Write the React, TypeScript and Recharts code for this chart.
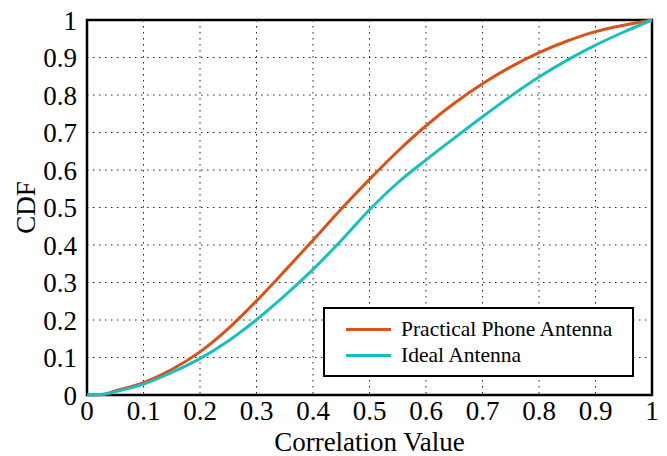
import React from "react";
import {
  LineChart,
  Line,
  XAxis,
  YAxis,
  CartesianGrid,
  ReferenceArea,
  Legend,
  Label,
} from "recharts";

const correlation = [0, 0.03, 0.05, 0.1, 0.15, 0.2, 0.25, 0.3, 0.35, 0.4, 0.45, 0.5, 0.55, 0.6, 0.65, 0.7, 0.75, 0.8, 0.85, 0.9, 0.95, 1];
const practicalCdf = [0, 0.002, 0.011, 0.033, 0.068, 0.115, 0.177, 0.251, 0.331, 0.413, 0.496, 0.575, 0.65, 0.718, 0.778, 0.83, 0.875, 0.913, 0.944, 0.969, 0.986, 1];
const idealCdf = [0, 0.002, 0.009, 0.029, 0.06, 0.097, 0.144, 0.201, 0.265, 0.335, 0.412, 0.494, 0.566, 0.627, 0.685, 0.742, 0.797, 0.848, 0.893, 0.933, 0.968, 1];
const xTicks = [0, 0.1, 0.2, 0.3, 0.4, 0.5, 0.6, 0.7, 0.8, 0.9, 1];
const yTicks = [0, 0.1, 0.2, 0.3, 0.4, 0.5, 0.6, 0.7, 0.8, 0.9, 1];

const seriesNames = ["Practical Phone Antenna", "Ideal Antenna"];
const seriesColors = ["#D95319", "#19BFBF"];

const data = correlation.map((x, i) => ({
  x,
  practical: practicalCdf[i],
  ideal: idealCdf[i],
}));

const FONT = '"Liberation Serif", "Times New Roman", serif';

const fmt = (v: number) => (v === 0 ? "0" : v === 1 ? "1" : String(Math.round(v * 10) / 10));

const YLabel = (props: any) => {
  const vb = props.viewBox || { x: 0, y: 20, width: 87, height: 375 };
  const cx = vb.x + 26;
  const cy = vb.y + vb.height / 2;
  return (
    <text
      x={cx}
      y={cy}
      transform={`rotate(-90 ${cx} ${cy})`}
      textAnchor="middle"
      dominantBaseline="central"
      fontSize={27}
      fontFamily={FONT}
      fill="#000"
    >
      CDF
    </text>
  );
};

const LegendBox = () => (
  <div
    style={{
      boxSizing: "border-box",
      width: 311,
      height: 70,
      border: "2px solid #000",
      background: "#fff",
      fontFamily: FONT,
      fontSize: 21.5,
      color: "#000",
      position: "relative",
    }}
  >
    {seriesNames.map((name, i) => (
      <div
        key={name}
        style={{
          position: "absolute",
          left: 21,
          top: 20 + i * 26 - 13,
          height: 26,
          display: "flex",
          alignItems: "center",
          whiteSpace: "nowrap",
        }}
      >
        <div style={{ width: 45, height: 3, background: seriesColors[i], marginRight: 10 }} />
        <span style={{ lineHeight: "26px" }}>{name}</span>
      </div>
    ))}
  </div>
);

export default function App() {
  return (
    <div style={{ position: "absolute", left: 0, top: 0, width: 667, height: 456, background: "#fff" }}>
      <LineChart width={667} height={456} data={data} margin={{ top: 20, right: 15, left: 0, bottom: 0 }}>
        <CartesianGrid stroke="#222" strokeDasharray="1.5 4.5" strokeWidth={1} />
        <XAxis
          dataKey="x"
          type="number"
          domain={[0, 1]}
          ticks={xTicks}
          tickFormatter={fmt}
          height={61}
          tickLine={false}
          tickSize={0}
          tickMargin={6}
          axisLine={false}
          tick={{ fontSize: 27, fontFamily: FONT, fill: "#000" }}
          interval={0}
        >
          <Label
            value="Correlation Value"
            position="insideBottom"
            offset={5}
            style={{ fontSize: 27, fontFamily: FONT, fill: "#000" }}
          />
        </XAxis>
        <YAxis
          type="number"
          domain={[0, 1]}
          ticks={yTicks}
          tickFormatter={fmt}
          width={87}
          tickLine={false}
          tickSize={0}
          tickMargin={10}
          axisLine={false}
          tick={{ fontSize: 27, fontFamily: FONT, fill: "#000" }}
          interval={0}
          label={<YLabel />}
        />
        <ReferenceArea
          x1={0}
          x2={1}
          y1={0}
          y2={1}
          fill="none"
          fillOpacity={0}
          stroke="#000"
          strokeWidth={2.5}
          ifOverflow="visible"
        />
        <Line type="monotone" dataKey="practical" name={seriesNames[0]} stroke={seriesColors[0]} strokeWidth={3} dot={false} isAnimationActive={false} />
        <Line type="monotone" dataKey="ideal" name={seriesNames[1]} stroke={seriesColors[1]} strokeWidth={3} dot={false} isAnimationActive={false} />
        <Legend
          layout="vertical"
          align="center"
          verticalAlign="middle"
          content={<LegendBox />}
          wrapperStyle={{ position: "absolute", left: 323, top: 307, width: 311, height: 70 }}
        />
      </LineChart>
    </div>
  );
}
